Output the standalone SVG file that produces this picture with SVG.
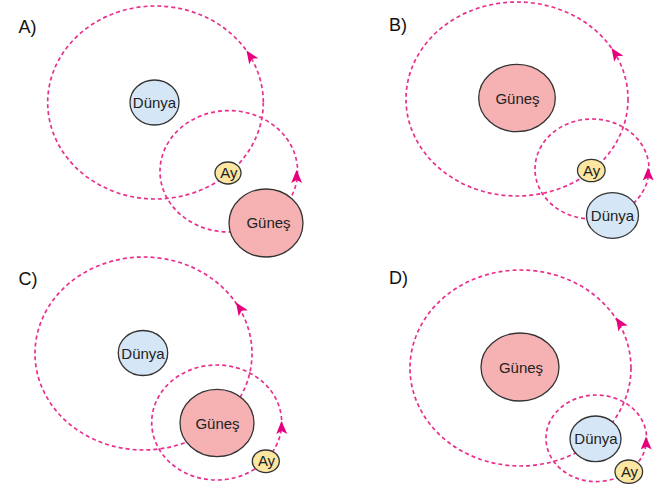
<svg xmlns="http://www.w3.org/2000/svg" xmlns:xlink="http://www.w3.org/1999/xlink" width="664" height="488" viewBox="0 0 664 488">
<style>
.orbit{fill:none;stroke:#e8308c;stroke-width:1.7;stroke-dasharray:4 3}
.ah{fill:#e6007e}
.body{stroke:#333;stroke-width:1.3}
.earth{fill:#d5e6f6}
.sun{fill:#f6b2b3}
.moon{fill:#fbe6a2}
.t{font-family:"Liberation Sans",Arial,sans-serif;font-size:15px;fill:#222;text-anchor:middle}
.lbl{font-family:"Liberation Sans",Arial,sans-serif;font-size:18px;fill:#111}
</style>
<defs>
<path id="ah" d="M0,0 L-13,-5.5 L-10,0 L-13,5.5 Z"/>
</defs>
<rect width="664" height="488" fill="#fff"/>
<g id="labels">
<text class="lbl" x="18.5" y="33">A)</text>
<text class="lbl" x="389" y="31">B)</text>
<text class="lbl" x="18.5" y="285">C)</text>
<text class="lbl" x="389" y="283.5">D)</text>
</g>
<g id="connectors">
<ellipse class="orbit" cx="155.5" cy="102.5" rx="107.8" ry="96.5"/>
<use class="ah" xlink:href="#ah" transform="translate(246.5,50.5) rotate(-124)"/>
<ellipse class="orbit" cx="228.8" cy="171.3" rx="68.8" ry="60.7"/>
<use class="ah" xlink:href="#ah" transform="translate(296.5,170) rotate(-91)"/>
<ellipse class="orbit" cx="517" cy="99" rx="111" ry="97"/>
<use class="ah" xlink:href="#ah" transform="translate(611.5,48) rotate(-124)"/>
<ellipse class="orbit" cx="592" cy="169" rx="57" ry="50"/>
<use class="ah" xlink:href="#ah" transform="translate(648,167.5) rotate(-91)"/>
<ellipse class="orbit" cx="143.5" cy="353.5" rx="108.5" ry="96.5"/>
<use class="ah" xlink:href="#ah" transform="translate(236,302.5) rotate(-124)"/>
<ellipse class="orbit" cx="216.7" cy="422.5" rx="65" ry="57.5"/>
<use class="ah" xlink:href="#ah" transform="translate(281.5,421) rotate(-91)"/>
<ellipse class="orbit" cx="520.5" cy="368" rx="110.5" ry="98"/>
<use class="ah" xlink:href="#ah" transform="translate(616,317.5) rotate(-123)"/>
<ellipse class="orbit" cx="596.3" cy="438.3" rx="50.3" ry="43.3"/>
<use class="ah" xlink:href="#ah" transform="translate(646,436.5) rotate(-91)"/>
</g>
<g id="A-dunya"><ellipse class="body earth" cx="154.5" cy="102.5" rx="24.5" ry="22.5"/><text class="t" x="154.5" y="108">Dünya</text></g>
<g id="A-ay"><ellipse class="body moon" cx="228" cy="173" rx="13" ry="11"/><text class="t" x="228.8" y="178">Ay</text></g>
<g id="A-gunes"><ellipse class="body sun" cx="266" cy="223" rx="37" ry="34"/><text class="t" x="268.5" y="228">Güneş</text></g>
<g id="B-gunes"><ellipse class="body sun" cx="517" cy="98" rx="38.3" ry="33.7"/><text class="t" x="517.5" y="103.5">Güneş</text></g>
<g id="B-ay"><ellipse class="body moon" cx="591.3" cy="170.5" rx="13.8" ry="11.2"/><text class="t" x="591.7" y="175.5">Ay</text></g>
<g id="B-dunya"><ellipse class="body earth" cx="612.5" cy="215.5" rx="26" ry="22.8"/><text class="t" x="612.5" y="221">Dünya</text></g>
<g id="C-dunya"><ellipse class="body earth" cx="143" cy="353" rx="24.7" ry="22.5"/><text class="t" x="143" y="358.5">Dünya</text></g>
<g id="C-gunes"><ellipse class="body sun" cx="217" cy="423" rx="37" ry="33.7"/><text class="t" x="217.5" y="428.5">Güneş</text></g>
<g id="C-ay"><ellipse class="body moon" cx="265.8" cy="461.3" rx="13.5" ry="11.3"/><text class="t" x="266.5" y="466.3">Ay</text></g>
<g id="D-gunes"><ellipse class="body sun" cx="520" cy="367" rx="39" ry="34"/><text class="t" x="521" y="372.5">Güneş</text></g>
<g id="D-dunya"><ellipse class="body earth" cx="595.5" cy="438.8" rx="25.5" ry="22.8"/><text class="t" x="596" y="444.3">Dünya</text></g>
<g id="D-ay"><ellipse class="body moon" cx="628.8" cy="471.7" rx="13.8" ry="11.7"/><text class="t" x="629.5" y="476.7">Ay</text></g>
</svg>
